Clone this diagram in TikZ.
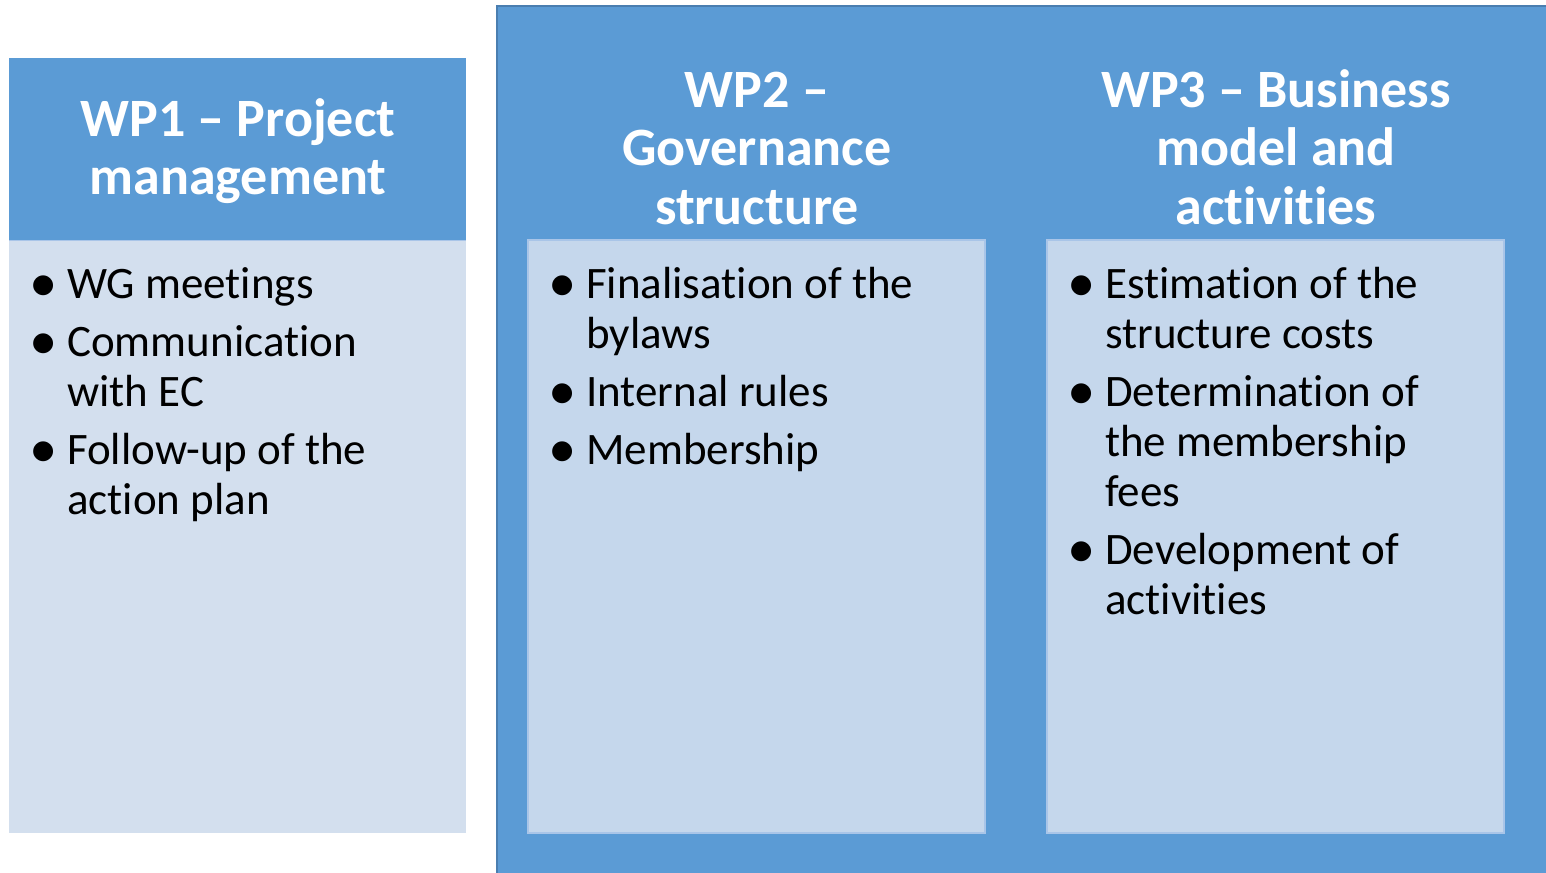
\documentclass[tikz,border=0pt]{standalone}
\usepackage{fontspec}
\setmainfont{Carlito}[Ligatures=NoCommon]
\newfontfamily\bulletfont{DejaVu Sans}
\definecolor{hdrblue}{HTML}{5B9BD5}
\definecolor{outerline}{HTML}{4A7EB0}
\definecolor{bodyA}{HTML}{D3DFEE}
\definecolor{bodyB}{HTML}{C5D7EC}
\definecolor{bodyline}{HTML}{A9C5E8}
\newcommand{\bitem}{\makebox[26pt][c]{\raisebox{6pt}{\fontsize{26}{26}\bulletfont ●}}}
\tikzset{
  hdrtext/.style={anchor=base, inner sep=0pt, text=white, font=\fontsize{54}{58}\selectfont\bfseries},
  listtext/.style={anchor=base west, inner sep=0pt, text=black, font=\fontsize{45}{50}\selectfont},
  bodybox/.style={draw=bodyline, line width=1.2pt},
}
\begin{document}
\begin{tikzpicture}[x=1pt,y=-1pt]
\clip (0,0) rectangle (1546,872);
\fill[white] (0,0) rectangle (1546,872);
% WP1
\fill[hdrblue] (9,58) rectangle (466,240);
\fill[bodyA] (9,240) rectangle (466,833);
\draw[draw=bodyline, line width=0.8pt] (9,240) -- (466,240);
% outer box for WP2/WP3
\draw[fill=hdrblue, draw=outerline, line width=1.5pt] (497,6) rectangle (1560,890);
\draw[bodybox, fill=bodyB] (528,240) rectangle (985,833);
\draw[bodybox, fill=bodyB] (1047,240) rectangle (1504,833);
% headers
\node[hdrtext] (h1) at (238,136) {\begin{tabular}[t]{@{}c@{}}WP1 -- Project\\management\end{tabular}};
\node[hdrtext] (h2) at (757,108) {\begin{tabular}[t]{@{}c@{}}WP2 --\\Governance\\structure\end{tabular}};
\node[hdrtext] (h3) at (1276,108) {\begin{tabular}[t]{@{}c@{}}WP3 -- Business\\model and\\activities\end{tabular}};
% lists
\node[listtext] (l1) at (30,298) {\begin{tabular}[t]{@{}p{37pt}@{}l@{}}
\bitem & WG meetings\\[8pt]
\bitem & Communication\\
 & with EC\\[8pt]
\bitem & Follow-up of the\\
 & action plan
\end{tabular}};
\node[listtext] (l2) at (549,298) {\begin{tabular}[t]{@{}p{37pt}@{}l@{}}
\bitem & Finalisation of the\\
 & bylaws\\[8pt]
\bitem & Internal rules\\[8pt]
\bitem & Membership
\end{tabular}};
\node[listtext] (l3) at (1068,298) {\begin{tabular}[t]{@{}p{37pt}@{}l@{}}
\bitem & Estimation of the\\
 & structure costs\\[8pt]
\bitem & Determination of\\
 & the membership\\
 & fees\\[8pt]
\bitem & Development of\\
 & activities
\end{tabular}};
\end{tikzpicture}
\end{document}
